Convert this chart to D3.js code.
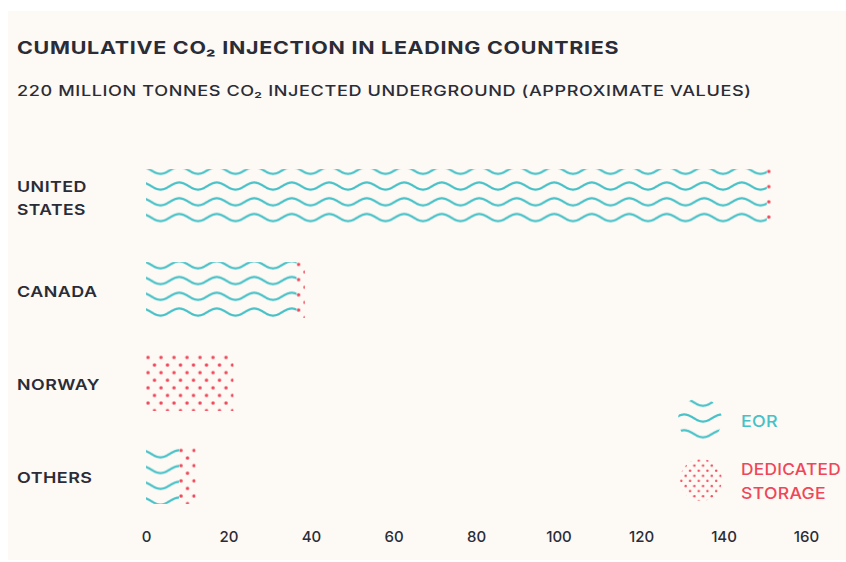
<!DOCTYPE html>
<html>
<head>
<meta charset="utf-8">
<script src="https://cdn.jsdelivr.net/npm/d3@7"></script>
<style>
  html, body { margin: 0; padding: 0; background: #ffffff; }
  svg { display: block; }
  text { font-family: Inter, "Open Sans", "DejaVu Sans", sans-serif; }
</style>
</head>
<body>
<svg id="chart" width="846" height="562"></svg>
<script>
// ---- data (million tonnes CO2, cumulative) ----
const countries = ["UNITED STATES", "CANADA", "NORWAY", "OTHERS"];
const eorValues = [150.5, 36.5, 0, 8];
const dedicatedValues = [1, 2, 21.2, 4];
const xTickValues = [0, 20, 40, 60, 80, 100, 120, 140, 160];
const titleText = "CUMULATIVE CO\u2082 INJECTION IN LEADING COUNTRIES";
const subtitleText = "220 MILLION TONNES CO\u2082 INJECTED UNDERGROUND (APPROXIMATE VALUES)";
const legendKeys = ["eor", "dedicated"];
const legendLabels = [["EOR"], ["DEDICATED", "STORAGE"]];

// ---- styling ----
const W = 846, H = 562;
const BG = "#fdf9f4";
const TEAL = "#45c1c7";
const RED = "#ef4659";
const INK = "#2a2c37";

const svg = d3.select("#chart");
const defs = svg.append("defs");

// wavy-line fill used for EOR
function wavePattern(id, originX, originY) {
  const period = 37.5, rowH = 15.75, amp = 3.5;
  const p = defs.append("pattern")
    .attr("id", id)
    .attr("patternUnits", "userSpaceOnUse")
    .attr("x", originX).attr("y", originY)
    .attr("width", period).attr("height", rowH);
  const pts = d3.range(-3, period + 3.01, 0.5)
    .map(t => [t, rowH / 2 + amp * Math.cos(2 * Math.PI * t / period)]);
  p.append("path")
    .attr("d", d3.line()(pts))
    .attr("fill", "none")
    .attr("stroke", TEAL)
    .attr("stroke-width", 2.2)
    .attr("stroke-linecap", "round");
}

// staggered dot fill used for dedicated storage
function dotPattern(id, scale, r) {
  const w = 13 * scale, h = 15.2 * scale;
  const p = defs.append("pattern")
    .attr("id", id)
    .attr("patternUnits", "userSpaceOnUse")
    .attr("x", -1.25 * scale).attr("y", -1.5 * scale)
    .attr("width", w).attr("height", h);
  [[w * 0.25, h * 0.25], [w * 0.75, h * 0.75]].forEach(([cx, cy]) =>
    p.append("circle").attr("cx", cx).attr("cy", cy).attr("r", r).attr("fill", RED));
}

wavePattern("waves", 160.5, 170.3 - 15.75 / 2);
wavePattern("wavesKey", 703, 418 - 15.75 / 2);
dotPattern("dots", 1, 1.75);
dotPattern("dotsKey", 0.67, 1.2);

// background panel
svg.append("rect").attr("width", W).attr("height", H).attr("fill", "#ffffff");
svg.append("rect").attr("x", 8).attr("y", 11).attr("width", W - 8).attr("height", 549).attr("fill", BG);

// place a left-anchored text at (x, y) and widen it horizontally to a target width
function label(parent, x, y, str, opts, target) {
  const t = parent.append("text")
    .attr("x", 0).attr("y", 0)
    .attr("font-size", opts.size).attr("font-weight", opts.weight)
    .attr("letter-spacing", opts.ls || 0)
    .attr("fill", opts.color || INK)
    .text(str);
  const w = t.node().getComputedTextLength();
  const s = target ? target / w : 1;
  t.attr("transform", `translate(${x},${y}) scale(${s},1)`);
  return t;
}

// ---- titles ----
label(svg, 17, 53.5, titleText, { size: 17.5, weight: 700, ls: 0.6 }, 603);
label(svg, 17, 95.5, subtitleText, { size: 14.5, weight: 500, ls: 0.5 }, 735);

// ---- scales ----
const x = d3.scaleLinear().domain([0, 160]).range([146, 806]);
const y = d3.scaleBand().domain(countries).range([150.5, 522.5])
  .paddingInner(0.4).paddingOuter(0.2);

const rows = countries.map((c, i) => ({ country: c, eor: eorValues[i], dedicated: dedicatedValues[i] }));
const stacked = d3.stack().keys(["eor", "dedicated"])(rows);

// ---- bars ----
// EOR segments share one wave field so rows line up across bars
svg.append("g").selectAll("rect")
  .data(stacked[0].filter(d => d[1] > d[0]))
  .join("rect")
  .attr("x", d => x(d[0]))
  .attr("y", d => y(d.data.country))
  .attr("width", d => x(d[1]) - x(d[0]))
  .attr("height", y.bandwidth())
  .attr("fill", "url(#waves)");

// dedicated-storage segments: dot grid anchored at each segment's corner
svg.append("g").selectAll("g")
  .data(stacked[1].filter(d => d[1] > d[0]))
  .join("g")
  .attr("transform", d => `translate(${x(d[0])},${y(d.data.country)})`)
  .append("rect")
  .attr("width", d => x(d[1]) - x(d[0]))
  .attr("height", y.bandwidth())
  .attr("fill", "url(#dots)");

// ---- category labels ----
const labelFits = { "UNITED": 70, "STATES": 69, "CANADA": 80.5, "NORWAY": 83, "OTHERS": 75.5 };
const catG = svg.append("g");
countries.forEach(c => {
  const words = c.split(" ");
  const cy = y(c) + y.bandwidth() / 2;
  const lineH = 23;
  words.forEach((wd, k) => {
    label(catG, 17, cy + 6.5 + (k - (words.length - 1) / 2) * lineH, wd,
      { size: 15, weight: 600, ls: 0.4 }, labelFits[wd]);
  });
});

// ---- x axis (labels only) ----
const axis = d3.axisBottom(x).tickValues(xTickValues).tickSize(0).tickPadding(0);
const axG = svg.append("g").attr("transform", "translate(0,530)").call(axis);
axG.select(".domain").remove();
axG.selectAll("text")
  .attr("font-size", 15).attr("font-weight", 500).attr("fill", INK)
  .attr("font-family", "Inter, 'Open Sans', sans-serif")
  .attr("dy", "0.8em");

// ---- legend ----
const legendIcons = [
  { cx: 700, cy: 420, r: 22, fill: "url(#wavesKey)", color: TEAL, ty: 427 },
  { cx: 701, cy: 480, r: 21, fill: "url(#dotsKey)", color: RED, ty: 475 }
];
const legendFits = { "EOR": 37, "DEDICATED": 100, "STORAGE": 85 };
legendKeys.forEach((k, i) => {
  const ic = legendIcons[i];
  if (k === "dedicated") {
    svg.append("g").attr("transform", `translate(${ic.cx - ic.r},${ic.cy - ic.r})`)
      .append("circle").attr("cx", ic.r).attr("cy", ic.r).attr("r", ic.r).attr("fill", ic.fill);
  } else {
    svg.append("circle").attr("cx", ic.cx).attr("cy", ic.cy).attr("r", ic.r).attr("fill", ic.fill);
  }
  legendLabels[i].forEach((line, j) => {
    label(svg, 741, ic.ty + j * 24, line,
      { size: 16, weight: 500, ls: 0.3, color: ic.color }, legendFits[line]);
  });
});
</script>
</body>
</html>
